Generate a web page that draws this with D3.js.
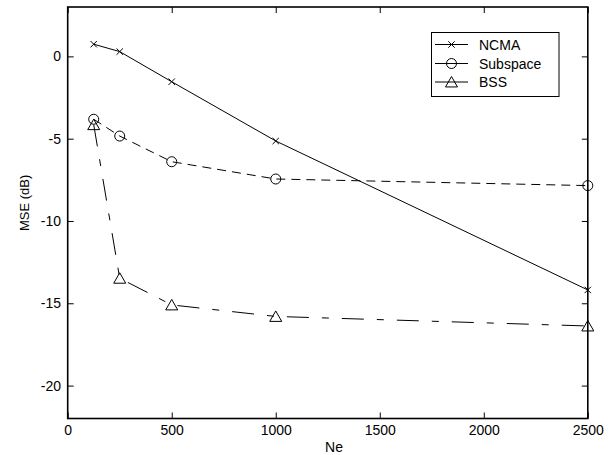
<!DOCTYPE html>
<html><head><meta charset="utf-8">
<script src="https://cdn.jsdelivr.net/npm/d3@7"></script>
<style>
html,body{margin:0;padding:0;background:#fff;}
text{font-family:"Liberation Sans",Arial,sans-serif;fill:#000;}
</style></head>
<body>
<svg id="chart" width="614" height="455"></svg>
<script>
const ne = [125, 250, 500, 1000, 2500];
const ncma = [0.74, 0.29, -1.54, -5.14, -14.19];
const subspace = [-3.82, -4.84, -6.4, -7.45, -7.85];
const bss = [-4.15, -13.48, -15.1, -15.8, -16.38];
const xTicks = [0, 500, 1000, 1500, 2000, 2500];
const yTicks = [0, -5, -10, -15, -20];
const seriesNames = ["NCMA", "Subspace", "BSS"];

const svg = d3.select("#chart");
const L = 67.7, R = 587.8, T = 7, B = 418.5;
const x = d3.scaleLinear().domain([0, 2500]).range([L, R]);
const y = d3.scaleLinear().domain([-22, 3]).range([B, T]);
const fmt = d => String(d);

svg.append("rect").attr("width", 614).attr("height", 455).attr("fill", "#fff");

// axes (ticks inward)
const tl = 6;
const gx = svg.append("g").attr("transform", `translate(0,${B})`)
  .call(d3.axisBottom(x).tickValues(xTicks).tickSize(-tl).tickPadding(7).tickFormat(fmt));
const gxt = svg.append("g").attr("transform", `translate(0,${T})`)
  .call(d3.axisTop(x).tickValues(xTicks).tickSize(-tl).tickFormat(""));
const gy = svg.append("g").attr("transform", `translate(${L},0)`)
  .call(d3.axisLeft(y).tickValues(yTicks).tickSize(-tl).tickPadding(6).tickFormat(fmt));
const gyr = svg.append("g").attr("transform", `translate(${R},0)`)
  .call(d3.axisRight(y).tickValues(yTicks).tickSize(-tl).tickFormat(""));
[gx, gxt, gy, gyr].forEach(g => {
  g.select(".domain").remove();
  g.selectAll(".tick line").attr("stroke", "#000").attr("stroke-width", 1);
  g.selectAll("text").attr("font-size", 14).attr("font-family", "Liberation Sans, Arial, sans-serif").attr("fill", "#000");
});
gy.selectAll(".tick text").attr("dx", "-0.05em");

svg.append("rect").attr("x", L).attr("y", T).attr("width", R - L).attr("height", B - T)
  .attr("fill", "none").attr("stroke", "#000").attr("stroke-width", 1.6);

svg.append("text").attr("x", x(1280)).attr("y", 452).attr("text-anchor", "middle")
  .attr("font-size", 14).text("Ne");
svg.append("text").attr("transform", `translate(29,${y(-8.9)}) rotate(-90)`)
  .attr("text-anchor", "middle").attr("font-size", 13).text("MSE (dB)");

const dashes = ["none", "9,6", "22,13,7,13"];
const data = [ncma, subspace, bss];
const line = d3.line().x((d, i) => x(ne[i])).y(d => y(d));

function marker(g, k, cx, cy) {
  if (k === 0) {
    const s = 3.2;
    g.append("path").attr("d", `M${cx - s},${cy - s}L${cx + s},${cy + s}M${cx - s},${cy + s}L${cx + s},${cy - s}`)
      .attr("stroke", "#000").attr("stroke-width", 1).attr("fill", "none");
  } else if (k === 1) {
    g.append("circle").attr("cx", cx).attr("cy", cy).attr("r", 5)
      .attr("stroke", "#000").attr("stroke-width", 1).attr("fill", "none");
  } else {
    const w = 6, h = 5.5;
    g.append("path").attr("d", `M${cx},${cy - h}L${cx + w},${cy + h * 0.9}L${cx - w},${cy + h * 0.9}Z`)
      .attr("stroke", "#000").attr("stroke-width", 1).attr("fill", "none");
  }
}

data.forEach((vals, k) => {
  const g = svg.append("g");
  g.append("path").datum(vals).attr("d", line).attr("fill", "none")
    .attr("stroke", "#000").attr("stroke-width", 1).attr("stroke-dasharray", dashes[k]);
  vals.forEach((v, i) => marker(g, k, x(ne[i]), y(v)));
});

// legend
const lg = svg.append("g");
lg.append("rect").attr("x", 431.5).attr("y", 32.5).attr("width", 127.5).attr("height", 64)
  .attr("fill", "#fff").attr("stroke", "#000").attr("stroke-width", 1);
const rows = [44.5, 63.5, 82];
seriesNames.forEach((n, k) => {
  lg.append("line").attr("x1", 435).attr("x2", 468).attr("y1", rows[k]).attr("y2", rows[k])
    .attr("stroke", "#000").attr("stroke-width", 1);
  marker(lg, k, 451.5, rows[k]);
  lg.append("text").attr("x", 479).attr("y", rows[k]).attr("dy", "0.36em")
    .attr("font-size", 14).text(n);
});
</script>
</body></html>
